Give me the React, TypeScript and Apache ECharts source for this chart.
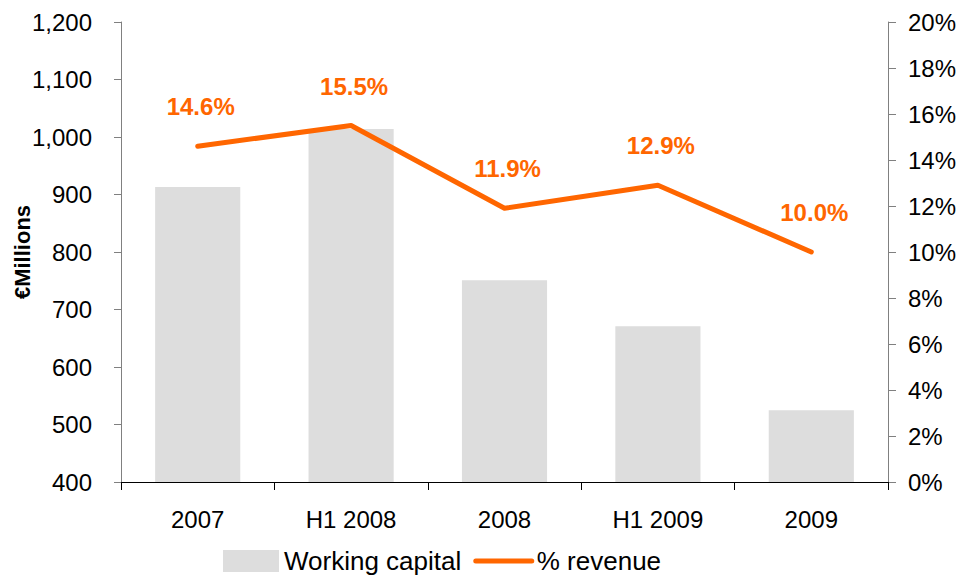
import React, { useEffect, useRef } from "react";
import * as echarts from "echarts";

const categories = ["2007", "H1 2008", "2008", "H1 2009", "2009"];
const workingCapital = [913, 1014, 751, 671, 525];
const pctRevenue = [14.6, 15.5, 11.9, 12.9, 10.0];

const leftMin = 400;
const leftMax = 1200;
const leftInterval = 100;
const rightMin = 0;
const rightMax = 20;
const rightInterval = 2;

export default function App() {
  const ref = useRef<HTMLDivElement>(null);
  useEffect(() => {
    if (!ref.current) return;
    const chart = echarts.init(ref.current, undefined, { renderer: "svg" });
    const font = "Liberation Sans, Arial, sans-serif";
    chart.setOption({
      animation: false,
      textStyle: { fontFamily: font },
      grid: { left: 121, right: 71, top: 22, bottom: 94, containLabel: false, outerBoundsMode: "none" },
      legend: {
        left: 218,
        top: 543,
        itemWidth: 56,
        itemHeight: 22,
        itemGap: 12,
        textStyle: { fontSize: 26, lineHeight: 26, color: "#000", fontFamily: font },
        data: [
          { name: "Working capital", icon: "rect" },
          {
            name: "% revenue",
            itemStyle: { opacity: 0, color: "rgba(0,0,0,0)", borderWidth: 0 },
            lineStyle: { width: 5, color: "#FF6600", cap: "round" },
          },
        ],
      },
      xAxis: {
        type: "category",
        data: categories,
        axisLine: { lineStyle: { color: "#000", width: 1 } },
        axisTick: { show: true, length: 8, lineStyle: { color: "#000" } },
        axisLabel: { fontSize: 24, color: "#000", margin: 25, fontFamily: font },
      },
      yAxis: [
        {
          type: "value",
          min: leftMin,
          max: leftMax,
          interval: leftInterval,
          name: "€Millions",
          nameLocation: "middle",
          nameGap: 88,
          nameRotate: 90,
          nameMoveOverlap: false,
          nameTextStyle: { fontSize: 22, fontWeight: "bold", color: "#000", fontFamily: font },
          axisLine: { show: true, lineStyle: { color: "#808080" } },
          axisTick: { show: true, length: 7, lineStyle: { color: "#808080" } },
          axisLabel: {
            fontSize: 24,
            color: "#000",
            margin: 29,
            fontFamily: font,
            formatter: (v: number) => v.toLocaleString("en-US"),
          },
          splitLine: { show: false },
        },
        {
          type: "value",
          min: rightMin,
          max: rightMax,
          interval: rightInterval,
          position: "right",
          axisLine: { show: true, lineStyle: { color: "#808080" } },
          axisTick: { show: true, length: 8, lineStyle: { color: "#808080" } },
          axisLabel: {
            fontSize: 24,
            color: "#000",
            margin: 20,
            fontFamily: font,
            formatter: (v: number) => v + "%",
          },
          splitLine: { show: false },
        },
      ],
      series: [
        {
          name: "Working capital",
          type: "bar",
          data: workingCapital,
          barCategoryGap: "44.5%",
          itemStyle: { color: "#DDDDDD" },
          yAxisIndex: 0,
        },
        {
          name: "% revenue",
          type: "line",
          data: pctRevenue,
          yAxisIndex: 1,
          symbol: "none",
          lineStyle: { color: "#FF6600", width: 5, cap: "round", join: "round" },
          itemStyle: { color: "#FF6600" },
        },
        {
          name: "labels",
          type: "scatter",
          data: pctRevenue,
          yAxisIndex: 1,
          symbolSize: 1,
          itemStyle: { color: "rgba(0,0,0,0)", opacity: 1 },
          silent: true,
          label: {
            show: true,
            position: "top",
            distance: 27,
            offset: [3, 0],
            color: "#FF6600",
            opacity: 1,
            fontWeight: "bold",
            fontSize: 24,
            fontFamily: font,
            formatter: (p: any) => p.value.toFixed(1) + "%",
          },
        },
      ],
    });
    return () => chart.dispose();
  }, []);
  return <div ref={ref} style={{ width: 959, height: 576, position: "absolute", left: 0, top: 0 }} />;
}
